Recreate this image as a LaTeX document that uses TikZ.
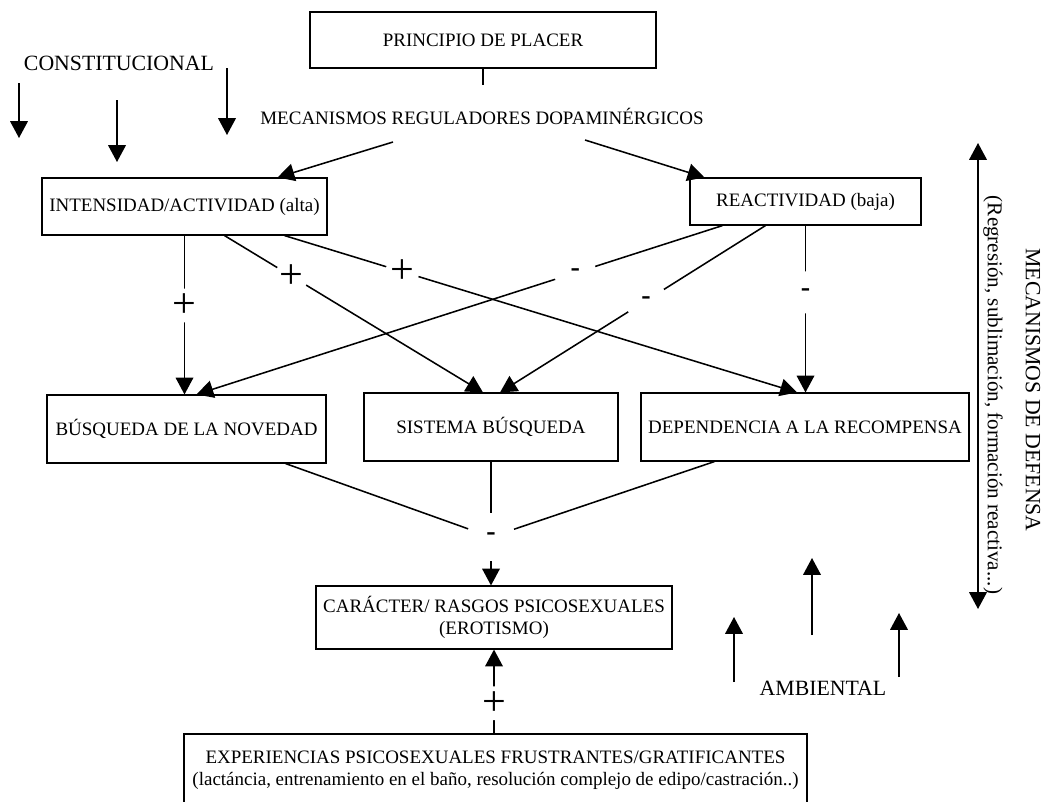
\documentclass[tikz,border=0pt]{standalone}
\usepackage{fontspec}
\setmainfont{Liberation Serif}
\usetikzlibrary{arrows.meta,positioning,calc}

\begin{document}
\begin{tikzpicture}[x=0.25mm, y=-0.25mm, font=\fontsize{13.5}{15.6}\selectfont,
box/.style={draw, line width=0.8pt, align=center, inner sep=2pt},
bigtext/.style={font=\fontsize{15.5}{17}\selectfont},
sign/.style={circle, fill=white, inner sep=0pt},
signplus/.style={sign, minimum size=0.8cm, font=\fontsize{30}{30}\selectfont},
signminus/.style={sign, minimum size=1.05cm, font=\fontsize{20}{20}\selectfont\bfseries},
arrow/.style={-{Triangle[length=4.2mm,width=4.4mm]}, line width=1.1pt},
line/.style={line width=1.1pt}]
\useasboundingbox (0,0) rectangle (1042,801);
% top
\node[box, minimum width=8.65cm, minimum height=1.4cm] (placer) at (483,40) {PRINCIPIO DE PLACER};
\node (dopa) at (482,116) {MECANISMOS REGULADORES DOPAMINÉRGICOS};
\coordinate (dopatop) at (483,85);
\coordinate (dopaL) at (393,142);
\coordinate (dopaR) at (585,140);
\node[bigtext] (constit) at (119,63) {CONSTITUCIONAL};
\node[box, minimum width=7.125cm, minimum height=1.425cm] (inten) at (184.5,206.5) {INTENSIDAD/ACTIVIDAD (alta)};
\node[box, minimum width=5.775cm, minimum height=1.175cm] (react) at (805.5,201.5) {REACTIVIDAD (baja)};
% middle
\node[box, minimum width=6.975cm, minimum height=1.7cm] (novedad) at (186.5,429) {BÚSQUEDA DE LA NOVEDAD};
\node[box, minimum width=6.35cm, minimum height=1.7cm] (sistema) at (491,427) {SISTEMA BÚSQUEDA};
\node[box, minimum width=8.2cm, minimum height=1.7cm] (recomp) at (805,427) {DEPENDENCIA A LA RECOMPENSA};
\node[signminus, minimum size=1.2cm] (junta) at (491,537) {-};
% bottom
\node[box, minimum width=8.9cm, minimum height=1.575cm] (caracter) at (494,617.5) {CARÁCTER/ RASGOS PSICOSEXUALES\\(EROTISMO)};
\node[box, minimum width=15.575cm, minimum height=1.8cm] (exper) at (495.5,770) {EXPERIENCIAS PSICOSEXUALES FRUSTRANTES/GRATIFICANTES\\(lactáncia, entrenamiento en el baño, resolución complejo de edipo/castración..)};
\node[bigtext] (ambiental) at (823,688) {AMBIENTAL};
% right side
\node[rotate=-90, font=\fontsize{15}{17}\selectfont] (regresion) at (993,395) {(Regresión, sublimación, formación reactiva...)};
\node[bigtext, rotate=-90] (defensa) at (1033,390) {MECANISMOS DE DEFENSA};

\draw[line] (placer) -- (dopatop);
\draw[arrow] (dopaL) -- ($(inten.north east)+(-50,0)$);
\draw[arrow] (dopaR) -- ($(react.north west)+(15,0)$);
\draw[arrow] (inten.south) -- node[signplus, pos=0.44] {+} (inten.south |- novedad.north);
\draw[arrow] ($(inten.south)+(40,0)$) -- node[signplus, pos=0.26] {+} ($(sistema.north)+(-8,0)$);
\draw[arrow] ($(inten.south)+(100,0)$) -- node[signplus, pos=0.23] {+} ($(recomp.north)+(-8,0)$);
\draw[arrow] ($(react.south)+(-83,0)$) -- node[signminus, pos=0.28] {-} ($(novedad.north)+(10,0)$);
\draw[arrow] ($(react.south)+(-40,0)$) -- node[signminus, pos=0.45] {-} ($(sistema.north)+(9,0)$);
\draw[arrow] (react.south) -- node[signminus, pos=0.40] {-} (react.south |- recomp.north);
\draw[line] ($(novedad.south east)+(-41,0)$) -- (junta);
\draw[line] (sistema) -- (junta);
\draw[line] ($(recomp.south west)+(74,0)$) -- (junta);
\draw[arrow] (junta) -- (junta |- caracter.north);
\draw[arrow] (exper.north -| caracter.south) -- node[signplus, pos=0.36] {+} (caracter.south);
% constitucional / ambiental
\foreach \x/\a/\b in {19/83/138, 117/100/162, 227/68/135}
  \draw[arrow] (\x,\a) -- (\x,\b);
\foreach \x/\a/\b in {734/682/617, 812/635/558, 899/677/613}
  \draw[arrow] (\x,\a) -- (\x,\b);
\draw[{Triangle[length=4.2mm,width=4.4mm]}-{Triangle[length=4.2mm,width=4.4mm]}, line width=1.1pt] (978,143) -- (978,609);
\end{tikzpicture}
\end{document}
